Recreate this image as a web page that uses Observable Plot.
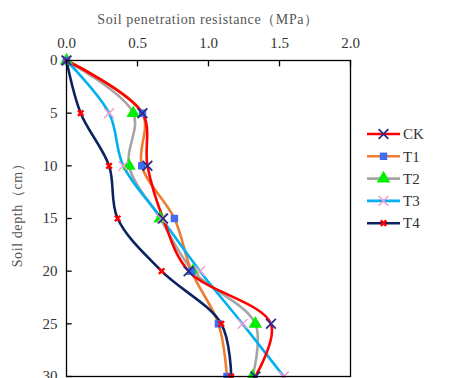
<!DOCTYPE html>
<html><head><meta charset="utf-8">
<script src="https://cdn.jsdelivr.net/npm/d3@7"></script>
<script src="https://cdn.jsdelivr.net/npm/@observablehq/plot@0.6"></script>
<style>body{margin:0;background:#fff;} svg{display:block;}</style>
</head><body><div id="chart"></div>
<script>
const depth = [0, 5, 10, 15, 20, 25, 30];
const ck = [0, 0.535, 0.57, 0.68, 0.86, 1.44, 1.33];
const t1 = [0, 0.535, 0.53, 0.76, 0.88, 1.07, 1.13];
const t2 = [0, 0.47, 0.44, 0.66, 0.89, 1.33, 1.31];
const t3 = [0, 0.30, 0.40, 0.67, 0.94, 1.24, 1.53];
const t4 = [0, 0.10, 0.30, 0.36, 0.67, 1.09, 1.16];
const seriesNames = ["CK", "T1", "T2", "T3", "T4"];
const xTicks = [0, 0.5, 1.0, 1.5, 2.0];
const yTicks = [0, 5, 10, 15, 20, 25, 30];

const styles = {
  CK: {line: "#ff0000", marker: "#2b2b8c", symbol: "times", r: 4.5, sw: 1.8, fill: "none"},
  T1: {line: "#ed7d31", marker: "#3f6cf0", symbol: "square", r: 4.2, sw: 0, fill: "#3f6cf0"},
  T2: {line: "#a5a5a5", marker: "#00ee00", symbol: "triangle", r: 5, sw: 0, fill: "#00ee00"},
  T3: {line: "#00b0f0", marker: "#f49ad0", symbol: "times", r: 4.5, sw: 1.5, fill: "none"},
  T4: {line: "#0b2461", marker: "#ff0000", symbol: "times", r: 2.6, sw: 2.4, fill: "none"}
};
const values = {CK: ck, T1: t1, T2: t2, T3: t3, T4: t4};
const rows = seriesNames.flatMap(s => depth.map((d, i) => ({series: s, depth: d, mpa: values[s][i]})));
const drawOrder = ["T2", "T1", "T4", "T3", "CK"];

const marks = [];
for (const s of drawOrder) {
  marks.push(Plot.line(rows.filter(r => r.series === s), {x: "mpa", y: "depth", stroke: styles[s].line, strokeWidth: 2.6, curve: "catmull-rom"}));
}
for (const s of drawOrder) {
  const st = styles[s];
  const isFill = st.fill !== "none";
  marks.push(Plot.dot(rows.filter(r => r.series === s), {
    x: "mpa", y: "depth", symbol: st.symbol, r: st.r,
    fill: isFill ? st.fill : "none",
    stroke: isFill ? "none" : st.marker,
    strokeWidth: st.sw
  }));
}

const chart = Plot.plot({
  width: 474, height: 378,
  marginLeft: 66, marginRight: 124, marginTop: 60, marginBottom: 2,
  style: {fontFamily: "Liberation Serif, serif", fontSize: "15px", color: "#333", background: "#fff"},
  x: {domain: [0, 2], axis: null},
  y: {domain: [0, 30], reverse: true, axis: null},
  marks: [
    Plot.axisX({anchor: "top", ticks: xTicks, tickFormat: d => d.toFixed(1), tickSize: 0, tickPadding: 13, label: null, fill: "#333"}),
    Plot.ruleX(xTicks, {x: d => d, y1: 0, y2: 0.6, stroke: "#000", strokeWidth: 1.3}),
    Plot.axisY({anchor: "left", ticks: yTicks, tickSize: 0, tickPadding: 9, label: null, fill: "#333"}),
    Plot.ruleY(yTicks, {y: d => d, x1: 0, x2: 0.04, stroke: "#000", strokeWidth: 1.3}),
    ...marks,
    Plot.frame({stroke: "#000", strokeWidth: 1.3})
  ]
});

const svg = d3.select(chart);
svg.append("text").attr("x", 208).attr("y", 24).attr("text-anchor", "middle")
  .attr("fill", "#555").style("font-size", "14px").style("letter-spacing", "0.6px")
  .text("Soil penetration resistance（MPa）");
svg.append("text").attr("transform", "translate(22,212) rotate(-90)").attr("text-anchor", "middle")
  .attr("fill", "#555").style("font-size", "14px").style("letter-spacing", "0.6px")
  .text("Soil depth（cm）");

const sym = {times: d3.symbolTimes, square: d3.symbolSquare, triangle: d3.symbolTriangle};
seriesNames.forEach((s, i) => {
  const st = styles[s];
  const y = 134 + i * 22.3;
  const g = svg.append("g");
  g.append("line").attr("x1", 367).attr("x2", 400).attr("y1", y).attr("y2", y)
    .attr("stroke", st.line).attr("stroke-width", 2.6);
  const size = Math.PI * st.r * st.r;
  g.append("path").attr("d", d3.symbol(sym[st.symbol], size)())
    .attr("transform", `translate(383.5,${y})`)
    .attr("fill", st.fill === "none" ? "none" : st.fill)
    .attr("stroke", st.fill === "none" ? st.marker : "none")
    .attr("stroke-width", st.sw);
  g.append("text").attr("x", 403).attr("y", y).attr("dy", "0.35em").attr("text-anchor", "start")
    .attr("fill", "#333").style("font-size", "15px").text(s);
});

document.getElementById("chart").appendChild(chart);
</script></body></html>
